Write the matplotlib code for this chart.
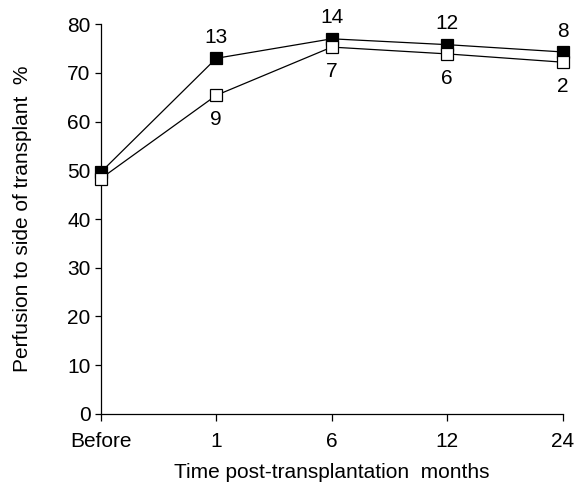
import matplotlib.pyplot as plt

plt.rcParams["font.family"] = ["Liberation Sans", "DejaVu Sans"]
plt.rcParams["font.size"] = 15

CATEGORIES = ["Before", "1", "6", "12", "24"]
FILLED = [49.6, 73.0, 77.0, 75.8, 74.3]
OPEN = [48.3, 65.4, 75.3, 73.9, 72.2]
FILLED_N = ["", "13", "14", "12", "8"]
OPEN_N = ["", "9", "7", "6", "2"]

fig = plt.figure(figsize=(5.76, 4.84), dpi=100)
ax = fig.add_axes([0.175, 0.145, 0.802, 0.805])

xs = range(len(CATEGORIES))
ax.plot(xs, FILLED, color="black", lw=0.9, marker="s", ms=8,
        mfc="black", mec="black", mew=0.9, clip_on=False, zorder=3)
ax.plot(xs, OPEN, color="black", lw=0.9, marker="s", ms=8,
        mfc="white", mec="black", mew=0.9, clip_on=False, zorder=4)

for x, y, t in zip(xs, FILLED, FILLED_N):
    if t:
        ax.annotate(t, (x, y), xytext=(0, 15), textcoords="offset points",
                    ha="center", va="center")
for x, y, t in zip(xs, OPEN, OPEN_N):
    if t:
        ax.annotate(t, (x, y), xytext=(0, -17.5), textcoords="offset points",
                    ha="center", va="center")

ax.set_xlim(0, 4)
ax.set_ylim(0, 80)
ax.set_xticks(list(xs))
ax.set_xticklabels(CATEGORIES)
ax.set_yticks(range(0, 81, 10))
ax.tick_params(direction="out", width=0.9)
ax.tick_params(axis="y", length=4.5, pad=3)
ax.tick_params(axis="x", length=5, pad=8)
ax.spines[["top", "right"]].set_visible(False)
for s in ["left", "bottom"]:
    ax.spines[s].set_linewidth(0.9)

ax.set_xlabel("Time post-transplantation  months")
ax.set_ylabel("Perfusion to side of transplant  %")
ax.xaxis.set_label_coords(0.5, -0.126)
ax.yaxis.set_label_coords(-0.15, 0.5)

fig.savefig("out.png", dpi=100)
